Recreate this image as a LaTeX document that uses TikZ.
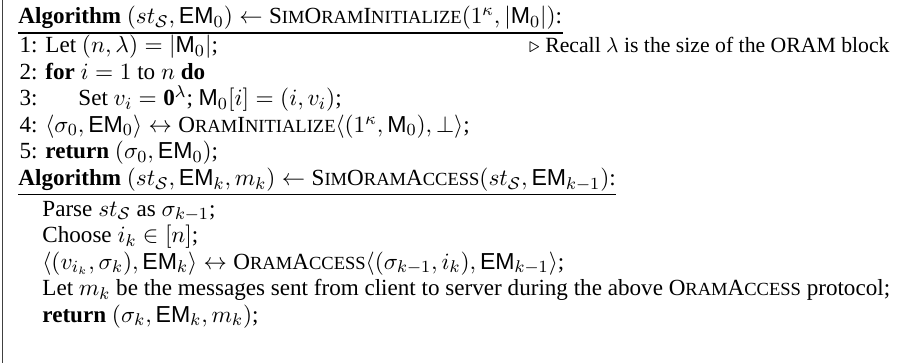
\documentclass[tikz,border=0pt]{standalone}
\usepackage{fontspec}
\setmainfont{Liberation Serif}
\setsansfont{Liberation Sans}
\usetikzlibrary{calc}

% faked small capitals (the serif family has no real ones)
\newcommand\scl[1]{{\fontsize{8.7}{9}\selectfont #1}}
\newcommand\SimOramInitialize{S\scl{IM}O\scl{RAM}I\scl{NITIALIZE}}
\newcommand\OramInitialize{O\scl{RAM}I\scl{NITIALIZE}}
\newcommand\SimOramAccess{S\scl{IM}O\scl{RAM}A\scl{CCESS}}
\newcommand\OramAccess{O\scl{RAM}A\scl{CCESS}}
\newcommand\EM{\mathsf{EM}}
\newcommand\Mem{\mathsf{M}}

\begin{document}
\begin{tikzpicture}[x=0.4695pt,y=-0.4695pt,
  line/.style={anchor=base west,inner sep=0pt,font=\fontsize{10.85}{13}\selectfont},
  lineno/.style={anchor=base east,inner sep=0pt,font=\fontsize{10.85}{13}\selectfont},
  note/.style={anchor=base east,inner sep=0pt,font=\fontsize{10.2}{12}\selectfont},
  titlerule/.style={line width=0.5pt},
  frame/.style={line width=0.7pt,black!75}]
\useasboundingbox (0,0) rectangle (908,363);

% frame on the left
\draw[frame] (2.5,0) -- (2.5,363);

% first algorithm
\node[line] (t1) at (18,24) {\textbf{Algorithm} $(st_{\mathcal{S}},\EM_0)\leftarrow{}$\SimOramInitialize$(1^{\kappa},|\Mem_0|)$:};
\draw[titlerule] ($(t1.base west)+(0,9)$) coordinate (r1a) -- ($(t1.base east)+(0,9)$) coordinate (r1b);

\node[lineno] (n1) at (38,53) {1:};
\node[line] (a1) at (45,53) {Let $(n,\lambda)=|\Mem_0|$;};
\node[note] (c1) at (890,53) {$\triangleright$ Recall $\lambda$ is the size of the ORAM block};
\node[lineno] (n2) at (38,79.5) {2:};
\node[line] (a2) at (45,79.5) {\textbf{for} $i=1$ to $n$ \textbf{do}};
\node[lineno] (n3) at (38,106) {3:};
\node[line] (a3) at (78,106) {Set $v_i=\mathbf{0}^{\lambda}$; $\Mem_0[i]=(i,v_i)$;};
\node[lineno] (n4) at (38,132.5) {4:};
\node[line] (a4) at (45,132.5) {$\langle\sigma_0,\EM_0\rangle\leftrightarrow{}$\OramInitialize$\langle(1^{\kappa},\Mem_0),\bot\rangle$;};
\node[lineno] (n5) at (38,159) {5:};
\node[line] (a5) at (45,159) {\textbf{return} $(\sigma_0,\EM_0)$;};

% second algorithm
\node[line] (t2) at (18,185.5) {\textbf{Algorithm} $(st_{\mathcal{S}},\EM_k,m_k)\leftarrow{}$\SimOramAccess$(st_{\mathcal{S}},\EM_{k-1})$:};
\draw[titlerule] ($(t2.base west)+(0,9)$) coordinate (r2a) -- ($(t2.base east)+(0,9)$) coordinate (r2b);

\node[line] (b1) at (42,216) {Parse $st_{\mathcal{S}}$ as $\sigma_{k-1}$;};
\node[line] (b2) at (42,242.5) {Choose $i_k\in[n]$;};
\node[line] (b3) at (42,269) {$\langle(v_{i_k},\sigma_k),\EM_k\rangle\leftrightarrow{}$\OramAccess$\langle(\sigma_{k-1},i_k),\EM_{k-1}\rangle$;};
\node[line] (b4) at (42,295.5) {Let $m_k$ be the messages sent from client to server during the above \OramAccess{} protocol;};
\node[line] (b5) at (42,322) {\textbf{return} $(\sigma_k,\EM_k,m_k)$;};
\end{tikzpicture}
\end{document}
